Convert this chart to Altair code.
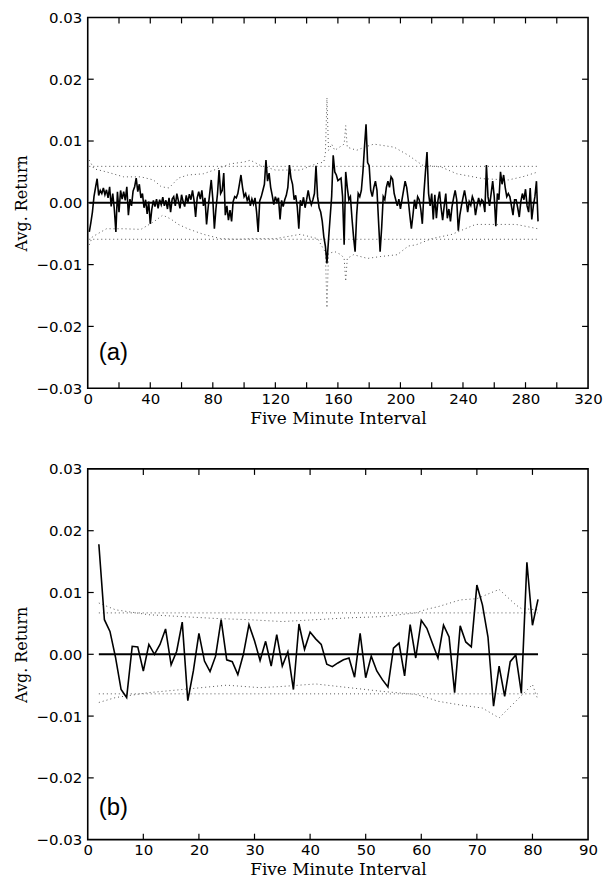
import altair as alt
import pandas as pd

# ---------------- data (values in thousandths of a return) ----------------
ret_a = [
    -4.7, -3.2, -1.5, 1.0, 2.5, 3.9, 1.2, 2.0, 1.5, 2.4, 1.3, 2.1,
    0.8, 2.6, -0.6, 1.5, -1.0, -4.7, 1.8, -1.5, 2.0, 0.6, 1.8, 0.4,
    2.6, -2.0, 0.6, -0.5, 1.9, 2.6, 4.0, 1.8, 3.0, 0.8, 1.5, -0.8,
    0.5, -1.8, 0.2, -3.4, -1.0, 0.4, -0.6, 0.6, -0.9, 0.5, -0.3, 0.9,
    -0.5, 0.4, -1.0, 0.8, -1.5, 0.6, 1.0, -0.5, 1.5, 0.3, -0.9, 1.3,
    0.2, -0.6, 1.2, 0.0, 1.4, 0.5, 2.0, 0.4, -2.3, 0.8, 1.8, 0.6,
    2.0, -0.5, 0.8, -3.5, -0.8, 1.5, 3.7, 0.6, -4.2, -1.0, 1.5, 5.3,
    1.5, 2.0, 4.8, -2.0, -0.5, -2.8, -1.2, -3.0, 0.2, 1.0, 0.8, 1.5,
    3.0, 4.5, 2.5, 1.0, 1.5, 0.4, 1.0, -0.5, 0.6, -0.2, 0.8, -1.5,
    -4.7, 0.3, 1.0, 2.0, 3.0, 6.9, 3.5, 4.8, 2.5, 1.2, -0.3, 1.0,
    0.2, 0.8, -2.7, 0.4, -0.6, 0.5, 1.2, 2.5, 6.1, 4.0, 3.0, 0.5,
    1.2, -0.6, -4.2, 0.4, -0.5, 0.9, -0.8, 0.5, 2.0, 0.6, -0.3, 0.5,
    1.5, 6.0, 1.0, -0.8, -1.5, -3.0, -5.5, -7.0, -9.8, -6.0, -2.5, 1.0,
    7.7, 5.0, 4.5, 3.6, 3.8, 4.0, 1.0, -6.8, 5.0, 2.5, 0.5, 1.0,
    -2.5, -5.5, -7.9, -2.0, 1.5, 1.0, 2.0, 5.0, 9.0, 12.7, 6.5, 6.0,
    2.0, 1.0, 2.5, 3.5, 2.0, -3.0, -7.9, -4.0, 1.0, 0.5, 2.5, 3.5,
    2.5, 4.2, 3.8, 1.5, 0.5, -0.5, 0.6, -1.0, 0.5, 2.0, 3.5, 2.5,
    0.5, -2.0, -4.2, -2.0, 0.5, -1.0, 1.0, 0.5, -1.0, -3.4, 1.5, 5.0,
    8.2, 1.5, -0.5, 1.5, -2.7, 1.3, -2.5, 0.4, 1.8, -0.8, -2.8, -0.5,
    1.5, -2.5, -1.0, -3.0, -0.6, 0.8, 2.0, 0.5, -4.5, -2.0, -0.5, 0.8,
    2.0, 0.5, -1.5, 0.2, -0.4, 1.0, 0.3, -2.0, -0.5, 0.8, -0.3, 0.5,
    0.2, -1.5, 6.1, 1.0, -0.5, 1.5, 3.5, 1.0, -3.8, 1.5, 0.5, 5.0,
    3.0, 4.5, 2.5, 1.0, 1.5, 1.0, -0.5, -2.0, 0.5, 0.5, -0.8, -2.3,
    0.2, 1.5, 0.5, 2.2, -0.5, -1.5, 2.4, -2.7, -0.5, 1.0, 3.5, -3.0,
]
x_a = list(range(1, len(ret_a) + 1))

band_a_up_x = [1, 4, 12, 23, 34, 42, 47, 52, 58, 64, 74, 83, 91, 100, 104, 110, 120,
               136, 146, 151, 152, 153, 154, 156, 158, 164, 165, 166, 172, 177, 183,
               196, 205, 214, 226, 236, 253, 269, 278, 288]
band_a_up_v = [6.9, 5.5, 5.0, 4.2, 4.2, 3.7, 2.6, 2.4, 4.0, 4.5, 4.7, 5.5, 6.3, 6.6, 6.9,
               6.1, 5.3, 5.3, 6.3, 6.6, 8.0, 17.0, 8.5, 9.5, 8.5, 9.5, 12.5, 9.0, 8.5,
               9.0, 9.5, 9.0, 7.7, 6.1, 5.8, 4.7, 3.9, 3.7, 4.2, 5.0]
band_a_lo_x = [1, 3, 12, 23, 34, 42, 48, 53, 58, 64, 74, 85, 96, 105, 120, 136, 147,
               152, 153, 154, 158, 162, 164, 165, 166, 170, 179, 187, 198, 205, 210,
               220, 233, 248, 261, 274, 288]
band_a_lo_v = [-6.8, -5.5, -4.2, -4.2, -4.3, -3.1, -2.0, -2.6, -3.5, -4.2, -5.1, -5.8,
               -5.9, -5.8, -5.8, -5.1, -5.8, -8.0, -17.0, -8.2, -7.9, -8.4, -9.0,
               -12.7, -9.0, -8.4, -9.0, -8.7, -8.4, -7.0, -6.8, -5.8, -5.1, -3.5,
               -3.5, -3.5, -4.2]
flat_a_x = [1, 288]
flat_a_up = [5.9, 5.9]
flat_a_lo = [-5.9, -5.9]

ret_b = [
    17.8, 5.6, 3.7, -0.5, -5.7, -7.0, 1.3, 1.2, -2.7, 1.6, 0.0, 1.6,
    4.1, -1.7, 0.5, 5.2, -7.5, -2.7, 3.4, -1.1, -2.8, -0.3, 5.6, -0.9,
    -1.2, -3.3, 0.0, 4.8, 2.2, -1.0, 2.1, -1.9, 3.2, -1.9, 0.4, -5.7,
    4.9, 0.8, 3.6, 2.5, 1.6, -1.6, -2.0, -1.4, -0.9, -0.6, -3.7, 3.4,
    -3.8, -0.3, -2.7, -4.1, -5.3, 1.0, 1.8, -3.5, 4.8, -0.6, 5.5, 4.2,
    1.8, -0.6, 4.7, 2.8, -6.2, 4.6, 2.0, 1.2, 11.2, 8.0, 2.8, -8.4,
    -1.9, -6.8, -1.2, -0.1, -6.3, 14.9, 4.7, 8.9,
]
x_b = list(range(2, len(ret_b) + 2))

band_b_up_x = [2, 5, 11, 17, 23, 29, 35, 41, 47, 53, 59, 61, 63, 67, 70, 74, 77, 78, 81]
band_b_up_v = [8.3, 7.2, 6.4, 6.1, 5.8, 5.6, 5.3, 5.6, 5.9, 6.1, 6.7, 7.3, 7.7, 8.8,
               9.0, 10.5, 8.0, 7.4, 7.2]
band_b_lo_x = [2, 5, 11, 17, 25, 31, 35, 41, 47, 53, 59, 61, 63, 67, 71, 74, 77, 80, 81]
band_b_lo_v = [-7.8, -7.0, -6.2, -5.7, -5.0, -5.4, -5.2, -4.8, -5.4, -6.0, -6.5, -7.0,
               -7.6, -8.2, -8.7, -10.3, -7.6, -4.9, -7.4]
flat_b_x = [2, 81]
flat_b_up = [6.7, 6.7]
flat_b_lo = [-6.4, -6.4]

x_labels_a = [0, 40, 80, 120, 160, 200, 240, 280, 320]
x_ticks_a = [20, 40, 60, 80, 100, 120, 140, 160, 180, 200, 220, 240, 260, 280, 300]
x_labels_b = [0, 10, 20, 30, 40, 50, 60, 70, 80, 90]
x_ticks_b = [10, 20, 30, 40, 50, 60, 70, 80]
y_labels = [-0.03, -0.02, -0.01, 0.0, 0.01, 0.02, 0.03]
y_ticks = [-0.02, -0.01, 0.0, 0.01, 0.02]

W = 502
H_A = 372
H_B = 372
TICK_FONT = "DejaVu Sans"
TITLE_FONT = "DejaVu Serif"
DOT = "#555555"


def k(vals):
    return [v / 1000.0 for v in vals]


def make_panel(xs, ys, up_x, up_v, lo_x, lo_v, fx, fup, flo, x_labels, x_ticks,
               xmax, H, label, label_x, label_y):
    xscale = alt.Scale(domain=[0, xmax], nice=False, zero=False)
    yscale = alt.Scale(domain=[-0.03, 0.03], nice=False, zero=False)
    xaxis = alt.Axis(values=x_labels, title="Five Minute Interval", ticks=False,
                     domain=False, grid=False, labelFont=TICK_FONT, labelFontSize=15,
                     labelColor="black", labelPadding=3, titleFont=TITLE_FONT,
                     titleFontSize=17, titleFontWeight="normal", titleColor="black",
                     titlePadding=4, labelFlush=False)
    yaxis = alt.Axis(values=y_labels, format=".2f", title="Avg. Return", ticks=False,
                     domain=False, grid=False, labelFont=TICK_FONT, labelFontSize=15,
                     labelColor="black", labelPadding=6, titleFont=TITLE_FONT,
                     titleFontSize=16, titleFontWeight="normal", titleColor="black",
                     titlePadding=6, labelFlush=False)

    def X(f):
        return alt.X(f, type="quantitative", scale=xscale, axis=xaxis)

    def Y(f):
        return alt.Y(f, type="quantitative", scale=yscale, axis=yaxis)

    series = pd.DataFrame({"x": xs, "v": k(ys)})
    up = pd.DataFrame({"x": up_x, "v": k(up_v)})
    lo = pd.DataFrame({"x": lo_x, "v": k(lo_v)})
    fu = pd.DataFrame({"x": fx, "v": k(fup)})
    fl = pd.DataFrame({"x": fx, "v": k(flo)})
    zero = pd.DataFrame({"x": [xs[0]], "x2": [xs[-1]], "v": [0.0]})
    xt = pd.DataFrame({"t": x_ticks})
    yt = pd.DataFrame({"t": y_ticks})
    lab = pd.DataFrame({"x": [label_x], "v": [label_y], "txt": [label]})

    dotted = dict(color=DOT, strokeWidth=1, strokeDash=[1, 3])
    layers = [
        alt.Chart(fu).mark_line(**dotted).encode(x=X("x"), y=Y("v")),
        alt.Chart(fl).mark_line(**dotted).encode(x=X("x"), y=Y("v")),
        alt.Chart(up).mark_line(**dotted).encode(x=X("x"), y=Y("v")),
        alt.Chart(lo).mark_line(**dotted).encode(x=X("x"), y=Y("v")),
        alt.Chart(zero).mark_rule(color="black", strokeWidth=2).encode(
            x=X("x"), x2="x2", y=Y("v")),
        alt.Chart(series).mark_line(color="black", strokeWidth=1.6).encode(
            x=X("x"), y=Y("v")),
        alt.Chart(xt).mark_rule(color="black", strokeWidth=1.2).encode(
            x=X("t"), y=alt.value(0), y2=alt.value(6)),
        alt.Chart(xt).mark_rule(color="black", strokeWidth=1.2).encode(
            x=X("t"), y=alt.value(H), y2=alt.value(H - 6)),
        alt.Chart(yt).mark_rule(color="black", strokeWidth=1.2).encode(
            y=Y("t"), x=alt.value(0), x2=alt.value(6)),
        alt.Chart(yt).mark_rule(color="black", strokeWidth=1.2).encode(
            y=Y("t"), x=alt.value(W), x2=alt.value(W - 6)),
        alt.Chart(lab).mark_text(font="Liberation Sans", fontSize=24, align="left",
                                 baseline="middle", color="black").encode(
            x=X("x"), y=Y("v"), text="txt:N"),
    ]
    return alt.layer(*layers).properties(width=W, height=H)


panel_a = make_panel(x_a, ret_a, band_a_up_x, band_a_up_v, band_a_lo_x, band_a_lo_v,
                     flat_a_x, flat_a_up, flat_a_lo, x_labels_a, x_ticks_a, 320, H_A,
                     "(a)", 7, -0.0243)
panel_b = make_panel(x_b, ret_b, band_b_up_x, band_b_up_v, band_b_lo_x, band_b_lo_v,
                     flat_b_x, flat_b_up, flat_b_lo, x_labels_b, x_ticks_b, 90, H_B,
                     "(b)", 2, -0.0248)

chart = alt.vconcat(panel_a, panel_b, spacing=34).properties(
    padding={"left": 5, "top": 0, "right": 0, "bottom": 0}
).configure_view(stroke="black", strokeWidth=1.6)

chart.save("out.html", embed_options={"renderer": "svg", "actions": False})
